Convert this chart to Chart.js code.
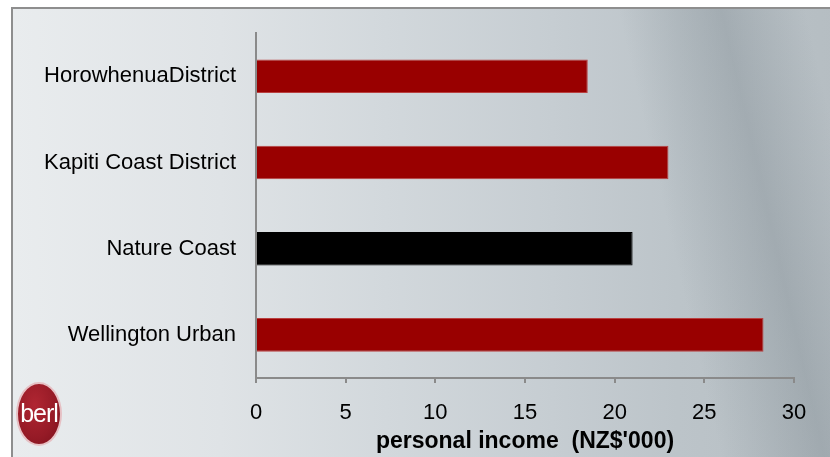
<!DOCTYPE html>
<html>
<head>
<meta charset="utf-8">
<script src="https://cdn.jsdelivr.net/npm/chart.js@4/dist/chart.umd.min.js"></script>
<style>
  html, body { margin: 0; padding: 0; background: #ffffff; }
  body { width: 830px; height: 457px; position: relative; overflow: hidden; }
  #panel {
    position: absolute; left: 11px; top: 7px; width: 830px; height: 470px;
    border-left: 2px solid #8e8e8e; border-top: 2px solid #8e8e8e;
    background:
      linear-gradient(77deg, rgba(0,0,0,0) 76%, rgba(110,122,130,0.3) 87%, rgba(0,0,0,0) 96%),
      linear-gradient(to right, #e9ecee 0%, #dfe3e6 25%, #d2d8dc 45%, #c6cdd2 65%, #bcc4c9 80%, #b5bdc2 100%);
  }
  #wrap { position: absolute; left: 0; top: 0; width: 830px; height: 457px; }
  #logo {
    position: absolute; left: 16px; top: 382px; width: 42px; height: 60px;
    border-radius: 50%; border: 2px solid #e6c0c4;
    background: radial-gradient(ellipse at 40% 35%, #b02632 0%, #951a26 60%, #7a101b 100%);
    color: #ffffff; font-family: "Liberation Sans Narrow", "Liberation Sans", Arial, sans-serif; font-size: 25px;
    line-height: 58px; text-align: center; letter-spacing: -1px;
  }
</style>
</head>
<body>
<div id="panel"></div>
<div id="wrap"><canvas id="grafico"></canvas></div>
<div id="logo">berl</div>
<script>
// datos
var categorias = ['HorowhenuaDistrict', 'Kapiti Coast District', 'Nature Coast', 'Wellington Urban'];
var ingresos = [18.5, 23.0, 21.0, 28.3];
var ticksX = [0, 5, 10, 15, 20, 25, 30];
var tituloX = "personal income  (NZ$'000)";

// el total regional va en negro, el resto en rojo
var colores = categorias.map(c => c === 'Nature Coast' ? '#000000' : '#990000');
var bordes = categorias.map(c => c === 'Nature Coast' ? '#000000' : '#b84040');

var ctx = document.getElementById('grafico').getContext('2d');
var miChart = new Chart(ctx, {
  type: 'bar',
  data: {
    labels: categorias,
    datasets: [{ data: ingresos, backgroundColor: colores, borderColor: bordes, borderWidth: 1, categoryPercentage: 1, barPercentage: 0.39 }]
  },
  options: {
    indexAxis: 'y',
    responsive: true, maintainAspectRatio: false, animation: false,
    layout: { padding: { top: 28, right: 36, left: 0, bottom: 0 } },
    plugins: { legend: { display: false }, tooltip: { enabled: false } },
    scales: {
      x: {
        min: ticksX[0], max: ticksX[ticksX.length - 1],
        afterBuildTicks: s => { s.ticks = ticksX.map(v => ({ value: v })); },
        afterFit: s => { s.height = 79; },
        grid: { drawOnChartArea: false, drawTicks: true, tickLength: 5, color: '#8a8a8a', lineWidth: 2 },
        border: { display: true, color: '#8a8a8a', width: 2 },
        ticks: { color: '#000', padding: 17, font: { family: 'Liberation Sans', size: 22 }, maxRotation: 0 },
        title: { display: true, text: tituloX, color: '#000', font: { family: 'Liberation Sans', size: 23, weight: 'bold' }, padding: { top: 0, bottom: 2 } }
      },
      y: {
        afterFit: s => { s.width = 256; },
        grid: { display: false, drawTicks: false },
        border: { display: true, color: '#8a8a8a', width: 2 },
        ticks: { color: '#000', padding: 20, font: { family: 'Liberation Sans', size: 22 } }
      }
    }
  }
});
</script>
</body>
</html>
